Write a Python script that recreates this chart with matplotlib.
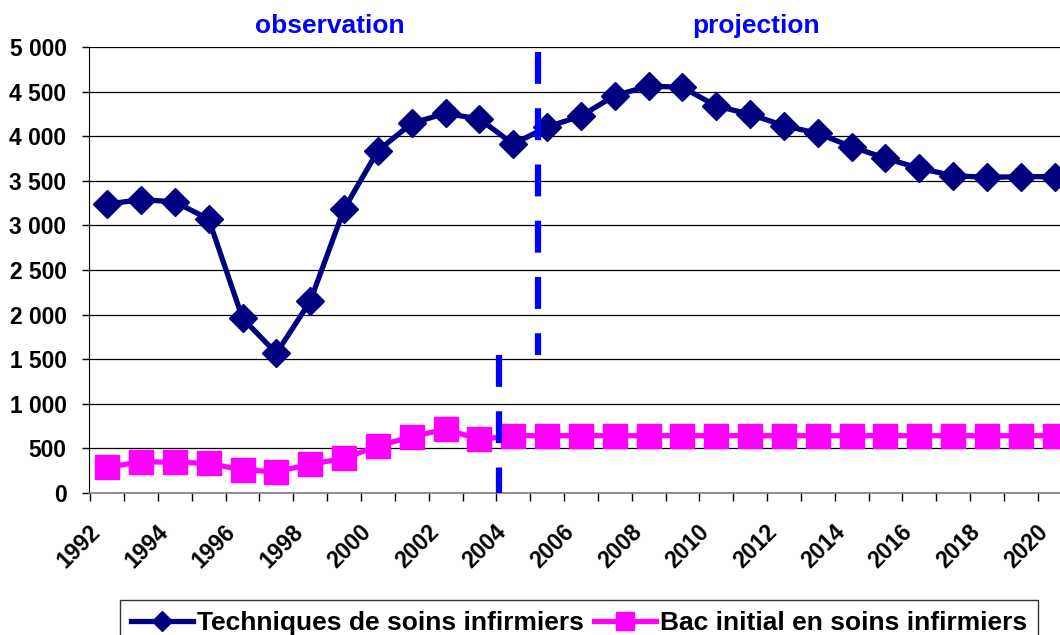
import numpy as np
import matplotlib
matplotlib.use("Agg")
import matplotlib.pyplot as plt

plt.rcParams['font.family'] = ['Liberation Sans', 'DejaVu Sans']

years = list(range(1992, 2021))
techniques = [3240, 3290, 3265, 3070, 1958, 1565, 2150, 3185, 3839, 4147, 4259, 4195, 3914,
              4105, 4229, 4457, 4565, 4551, 4341, 4248, 4120, 4034, 3884, 3754, 3642, 3559,
              3540, 3548, 3548]
bac = [285, 348, 341, 330, 255, 236, 319, 386, 524, 629, 712, 599, 640,
       640, 640, 640, 640, 640, 640, 640, 640, 640, 640, 640, 640, 640, 640, 640, 640]
label_tech = "Techniques de soins infirmiers"
label_bac = "Bac initial en soins infirmiers"

W, H = 1060, 635
fig = plt.figure(figsize=(W / 100, H / 100), dpi=100)
ax = fig.add_axes([88.6 / W, 1 - 492.7 / H, (1071.6 - 88.6) / W, (492.7 - 47.3) / H])

x = np.arange(len(years))
ax.plot(x, techniques, color="#000080", lw=3.8, marker="D", ms=14,
        mec="#000080", mfc="#000080", label=label_tech, zorder=4, clip_on=False)
ax.plot(x, bac, color="#FF00FF", lw=3.8, marker="s", ms=17,
        mec="#FF00FF", mfc="#FF00FF", label=label_bac, zorder=4, clip_on=False)

# separation observation / projection
ax.plot([11.58, 11.58], [1546, 0], color="#0000FF", lw=4.5, dashes=(5.1, 3.9), zorder=5,
        solid_capstyle="butt")
ax.plot([12.72, 12.72], [4947, 1546], color="#0000FF", lw=4.5, dashes=(5.1, 3.9), zorder=5,
        solid_capstyle="butt")

ax.set_xlim(-0.5, 28.5)
ax.set_ylim(0, 5000)
yt = np.arange(0, 5001, 500)
ax.set_yticks(yt)
ax.set_yticklabels([f"{v:,}".replace(",", " ") for v in yt], fontsize=16.4, fontweight="bold")
ax.yaxis.grid(True, color="black", lw=0.9)
ax.set_axisbelow(True)

# tick marks at category boundaries, labels every two years
ax.set_xticks(x - 0.5, minor=True)
lab_years = [y for y in years if y % 2 == 0]
ax.set_xticks([years.index(y) - 0.5 - 0.05 for y in lab_years])
ax.set_xticklabels([str(y) for y in lab_years], rotation=45,
                   ha="right", rotation_mode="anchor", fontsize=16.5, fontweight="bold")

ax.tick_params(axis="y", direction="out", length=5, width=1, pad=11)
ax.tick_params(axis="x", which="major", length=0, pad=20)
ax.tick_params(axis="x", which="minor", direction="out", length=6, width=1)
for s in ["top", "right"]:
    ax.spines[s].set_visible(False)
ax.spines["left"].set_color("black")
ax.spines["bottom"].set_color("#808080")
ax.spines["bottom"].set_linewidth(1.2)

fig.text(330 / W, 1 - 26 / H, "observation", color="#0000FF", fontsize=19,
         fontweight="bold", ha="center", va="center")
fig.text(756 / W, 1 - 26 / H, "projection", color="#0000FF", fontsize=19,
         fontweight="bold", ha="center", va="center")

leg = fig.legend(loc="upper left", bbox_to_anchor=(119.5 / W, 1 - 600 / H), ncol=2,
                 frameon=True, fancybox=False, edgecolor="black", handlelength=2.35,
                 handletextpad=0.15, columnspacing=0.4, borderpad=0.42, borderaxespad=0,
                 prop={"size": 19, "weight": "bold"}, markerscale=0.75)
leg.get_frame().set_linewidth(1)

fig.savefig("out.png", dpi=100)
